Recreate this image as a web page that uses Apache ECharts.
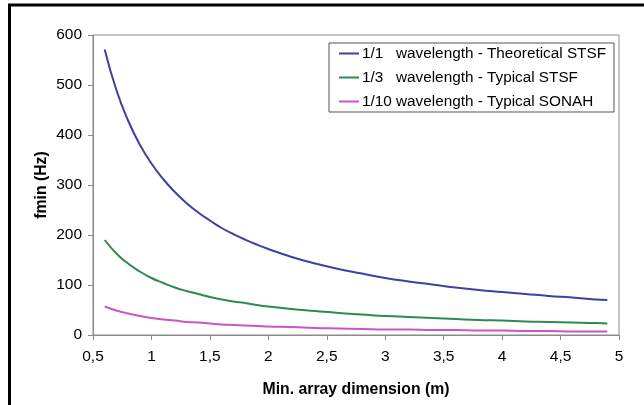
<!DOCTYPE html>
<html>
<head>
<meta charset="utf-8">
<script src="https://cdn.jsdelivr.net/npm/echarts@6/dist/echarts.min.js"></script>
<style>html,body{margin:0;padding:0;background:#fff}#c{width:644px;height:405px}</style>
</head>
<body>
<div id="c"></div>
<script>
const dims = [0.6,0.7,0.8,0.9,1.0,1.1,1.2,1.3,1.4,1.5,1.6,1.7,1.8,1.9,2.0,2.2,2.4,2.6,2.8,3.0,3.2,3.4,3.6,3.8,4.0,4.2,4.4,4.6,4.8,4.9];
const fullWave = [571,490,429,381,343,312,286,264,245,229,214,202,191,181,172,156,143,132,123,114,107,101,95,90,86,82,78,75,71,70];
const thirdWave = [190,163,143,127,114,104,95,88,82,76,71,67,64,60,57,52,48,44,41,38,36,34,32,30,29,27,26,25,24,23];
const tenthWave = [57,49,43,38,34,31,29,26,25,23,21,20,19,18,17,16,14,13,12,11,11,10,10,9,9,8,8,7,7,7];
const seriesNames = ['1/1   wavelength - Theoretical STSF','1/3   wavelength - Typical STSF','1/10 wavelength - Typical SONAH'];
const seriesColors = ['#40409f','#2e8b4e','#cc55c4'];
const xTitle = 'Min. array dimension (m)';
const yTitle = 'fmin (Hz)';

const font = 'Liberation Sans, Arial, sans-serif';
const pair = (ys) => dims.map((d,i)=>[d, ys[i]]);
const chart = echarts.init(document.getElementById('c'));
chart.setOption({
  animation:false,
  backgroundColor:'#fff',
  graphic:[
    {type:'rect', shape:{x:9.5,y:5,width:700,height:500}, style:{fill:'none', stroke:'#000', lineWidth:3}, silent:true}
  ],
  grid:{left:93,right:25,top:35,bottom:70,show:true,borderColor:'#8a8a8a',borderWidth:1,backgroundColor:'#fff'},
  legend:{
    orient:'vertical', left:329, top:43, width:280,
    data: seriesNames,
    borderColor:'#555', borderWidth:1, backgroundColor:'#fff',
    padding:[3,8,3,10], itemGap:9, itemWidth:20, itemHeight:2,
    icon:'rect',
    textStyle:{fontFamily:font,fontSize:15.3,lineHeight:15,height:15,color:'#000',padding:[0,0,0,-2]}
  },
  xAxis:{
    type:'value', min:0.5, max:5, interval:0.5,
    name:xTitle, nameLocation:'middle', nameGap:47, nameMoveOverlap:false,
    nameTextStyle:{fontFamily:font,fontSize:15.8,fontWeight:'bold',color:'#000'},
    axisLine:{show:true,lineStyle:{color:'#8a8a8a',width:1}},
    axisTick:{show:true,length:5,lineStyle:{color:'#8a8a8a'}},
    axisLabel:{fontFamily:font,fontSize:15.5,color:'#000',margin:14,formatter:v=>String(v).replace('.',',')},
    splitLine:{show:false}
  },
  yAxis:{
    type:'value', min:0, max:600, interval:100,
    name:yTitle, nameLocation:'middle', nameGap:43, nameMoveOverlap:false,
    nameTextStyle:{fontFamily:font,fontSize:15.8,fontWeight:'bold',color:'#000'},
    axisLine:{show:true,lineStyle:{color:'#8a8a8a',width:1}},
    axisTick:{show:true,length:5,lineStyle:{color:'#8a8a8a'}},
    axisLabel:{fontFamily:font,fontSize:15.5,color:'#000',margin:11},
    splitLine:{show:false}
  },
  series:[fullWave,thirdWave,tenthWave].map((ys,i)=>({
    name:seriesNames[i], type:'line', data:pair(ys), smooth:true, showSymbol:false, symbol:'none',
    lineStyle:{color:seriesColors[i],width:2}, itemStyle:{color:seriesColors[i]}
  }))
});
</script>
</body>
</html>
